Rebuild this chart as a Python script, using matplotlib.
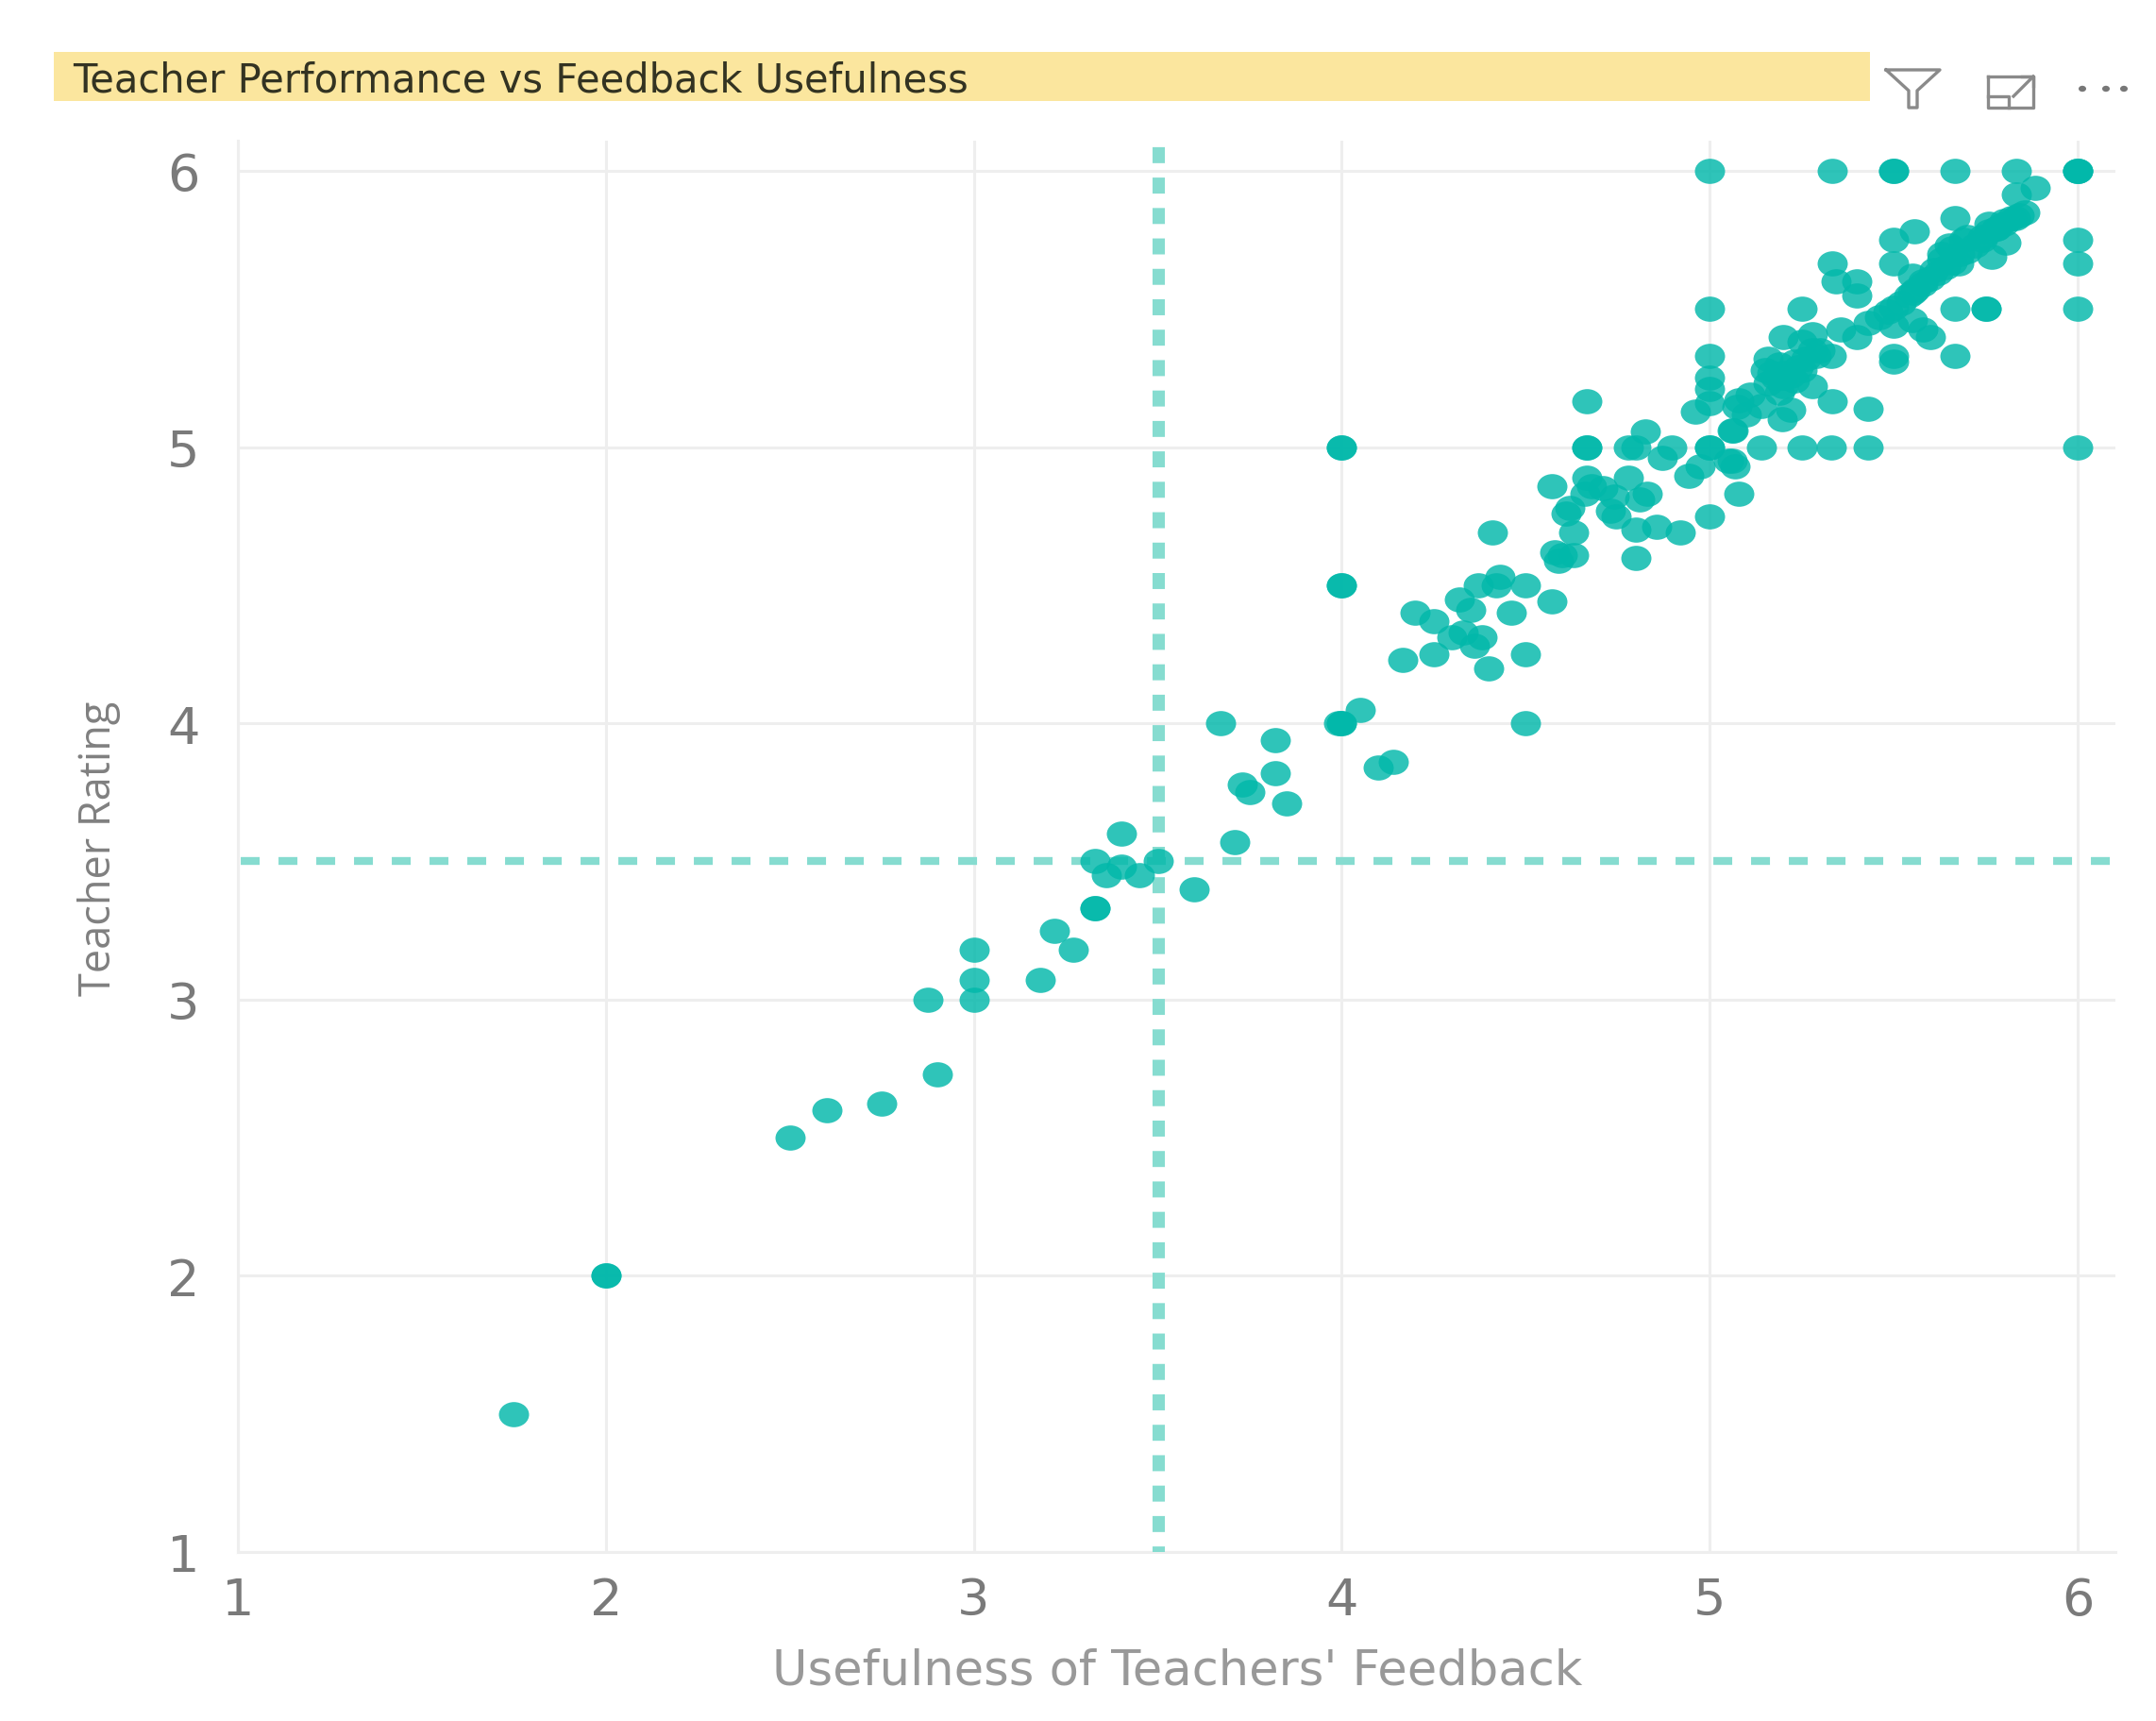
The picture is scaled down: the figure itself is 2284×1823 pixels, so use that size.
import matplotlib
matplotlib.use("Agg")
import matplotlib.pyplot as plt
from matplotlib.path import Path
from matplotlib.lines import Line2D
from matplotlib.patches import Rectangle
from matplotlib.transforms import Affine2D

W, H = 2284, 1824
plt.rcParams['lines.scale_dashes'] = False

title = "Teacher Performance vs Feedback Usefulness"
x_label = "Usefulness of Teachers' Feedback"
y_label = "Teacher Rating"
ticks = [1, 2, 3, 4, 5, 6]
ref_x = 3.5
ref_y = 3.5

low_x = [1.75, 2, 2, 2.5, 2.6, 2.75, 2.875, 2.9, 3, 3, 3, 3.18, 3.22, 3.27, 3.33, 3.33, 3.33, 3.36, 3.4, 3.4, 3.45, 3.5, 3.6,
         3.67, 3.71, 3.73, 3.75, 3.82, 3.82, 3.85, 4, 4, 3.99, 4.05, 4.1, 4.14, 4, 4, 4, 4]
low_y = [1.5, 2, 2, 2.5, 2.6, 2.625, 3, 2.73, 3, 3.07, 3.18, 3.07, 3.25, 3.18, 3.33, 3.33, 3.5, 3.45, 3.6, 3.48, 3.45, 3.5, 3.4,
         4, 3.57, 3.78, 3.75, 3.94, 3.82, 3.71, 4, 4, 4, 4.05, 3.84, 3.86, 4.5, 4.5, 5, 5]

mid_x = [4.165, 4.2, 4.25, 4.25, 4.32, 4.35, 4.3, 4.33, 4.36, 4.38, 4.4, 4.37, 4.43, 4.42, 4.41, 4.46, 4.5, 4.5, 4.5, 4.57,
         4.57, 4.58, 4.59, 4.63, 4.60, 4.63, 4.62, 4.61, 4.66, 4.68, 4.71, 4.74, 4.73, 4.745, 4.666, 4.78, 4.83, 4.81,
         4.8, 4.8, 4.856, 4.92, 4.666, 4.666, 4.78, 4.80, 4.825, 4.897, 4.87]
mid_y = [4.23, 4.4, 4.37, 4.25, 4.45, 4.41, 4.31, 4.33, 4.28, 4.31, 4.2, 4.5, 4.53, 4.5, 4.69, 4.4, 4.5, 4.25, 4.0, 4.44,
         4.86, 4.62, 4.59, 4.61, 4.61, 4.69, 4.78, 4.76, 4.83, 4.86, 4.85, 4.82, 4.77, 4.75, 4.89, 4.89, 4.83, 4.81,
         4.70, 4.6, 4.71, 4.69, 5, 5, 5, 5, 5.057, 5, 4.96]

high_x = [5, 5, 4.975, 4.944, 5.06, 5.07, 5.14, 5.25, 5.33, 5.43, 5.08, 5, 5.064, 5.05, 5, 5, 5, 5, 4.96, 4.667, 5, 5.25,
          5.158, 5.15, 5.19, 5.23, 5.25, 5.2, 5.23, 5.158, 5.28, 5.19, 5.333, 5.43, 5.11, 5.08, 5.075, 5.1, 5.14, 5.196, 5.22, 5.06,
          5.28, 5.2, 5.25, 5.33, 5.29, 5.357, 5.40, 5.43, 5.46, 5.5, 5.55, 5.58, 5.6, 5.667, 5.5, 5.5,
          5.485, 5.5, 5.55, 5.58, 5.61, 5.63, 5.65, 5.677, 5.69, 5.76, 5.767, 5.805, 5.74, 5.78, 5.8,
          5.667, 5.75, 5.75, 5.667, 5.555, 5.5, 5.5, 5.333, 5.344, 5.40, 5.40, 5.55, 5.857, 5.83, 5.885, 5.834,
          5, 5.333, 5.5, 5.5, 5.667, 5.833, 6, 6, 6, 6, 6, 6, 6]
high_y = [5, 5, 4.93, 4.897, 4.95, 4.93, 5, 5, 5, 5, 4.83, 4.75, 5.06, 4.95, 5.5, 5.33, 5.25, 5.21, 5.13, 5.165, 5.16, 5.5,
          5.32, 5.28, 5.30, 5.31, 5.28, 5.25, 5.24, 5.23, 5.22, 5.197, 5.165, 5.14, 5.19, 5.17, 5.146, 5.118, 5.15, 5.1, 5.134, 5.06,
          5.41, 5.4, 5.38, 5.33, 5.33, 5.425, 5.40, 5.45, 5.47, 5.44, 5.46, 5.425, 5.4, 5.33, 5.33, 5.31,
          5.49, 5.505, 5.56, 5.6, 5.64, 5.70, 5.73, 5.665, 5.75, 5.81, 5.69, 5.74, 5.76, 5.79, 5.82,
          5.5, 5.5, 5.5, 5.83, 5.78, 5.75, 5.665, 5.665, 5.6, 5.6, 5.55, 5.62, 5.85, 5.83, 5.94, 5.915,
          6, 6, 6, 6, 6, 6, 6, 6, 5.75, 5.665, 5.5, 5, 6]

ridge_x = [5.52, 5.54, 5.56, 5.58, 5.6, 5.62, 5.64, 5.66, 5.68, 5.7, 5.72, 5.74, 5.76, 5.78, 5.8, 5.82, 5.84,
           5.18, 5.2, 5.22, 5.2, 5.17, 5.24, 5.26, 5.28, 5.3, 5.63, 5.66, 5.7]
ridge_y = [5.52, 5.55, 5.57, 5.59, 5.61, 5.63, 5.65, 5.67, 5.7, 5.71, 5.73, 5.75, 5.78, 5.79, 5.81, 5.83, 5.84,
           5.25, 5.27, 5.26, 5.22, 5.27, 5.29, 5.32, 5.35, 5.35, 5.68, 5.72, 5.76]

usefulness = low_x + mid_x + high_x + ridge_x
rating = low_y + mid_y + high_y + ridge_y

def fx(px):
    return px / W

def fy(py):
    return 1 - py / H

fig = plt.figure(figsize=(W / 100, H / 100), dpi=100, facecolor='white')
ax = fig.add_axes([fx(252), fy(1645), (2241 - 252) / W, (1645 - 150) / H])
ax.set_xlim(1, 1 + (2241 - 252) / 389.8)
ax.set_ylim(1, 1 + (1645 - 150) / 292.6)
ax.set_xticks(ticks)
ax.set_yticks(ticks)
ax.grid(True, color='#eeeeee', lw=2.2)
ax.set_axisbelow(True)
for s in ax.spines.values():
    s.set_visible(False)
ax.plot([1, 1], [1, ax.get_ylim()[1]], color='#eeeeee', lw=2.2, zorder=0.5, clip_on=False)
ax.plot([1, ax.get_xlim()[1]], [1, 1], color='#eeeeee', lw=2.2, zorder=0.5, clip_on=False)
ax.tick_params(length=0, labelsize=39, labelcolor='#7a7a7a', pad=0)
ax.tick_params(axis='x', pad=18)
ax.tick_params(axis='y', pad=29)

ax.axvline(ref_x, color='#86dcd0', lw=9.4, linestyle=(7.6, (12.2, 11.0)), dash_capstyle='butt', zorder=1.5)
ax.axhline(ref_y, color='#86dcd0', lw=6, linestyle=(26.6, (14.4, 14.4)), dash_capstyle='butt', zorder=1.5)

ellipse = Path.unit_circle().transformed(Affine2D().scale(1.2, 1))
ax.scatter(usefulness, rating, s=530, marker=ellipse, color='#01B8AA', alpha=0.82, linewidths=0, zorder=3, clip_on=False)

ax.set_xlabel(x_label, fontsize=36.8, color='#999999', family='DejaVu Sans')
ax.xaxis.set_label_coords((1247 - 252) / (2241 - 252), (1645 - 1771) / (1645 - 150))
ax.xaxis.label.set_verticalalignment('center')
ax.set_ylabel(y_label, fontsize=32.5, color='#808080', family='Open Sans')
ax.yaxis.set_label_coords((105 - 252) / (2241 - 252), (1645 - 899) / (1645 - 150))
ax.yaxis.label.set_verticalalignment('center')

fig.add_artist(Rectangle((fx(57), fy(108)), (1981 - 57) / W, (108 - 56) / H, transform=fig.transFigure, color='#fbe69e', lw=0))
fig.text(fx(77), fy(85), title, fontsize=30, color='#333322', family='DejaVu Sans', va='center', ha='left')

def icon(xs, ys, lw=2.4):
    fig.add_artist(Line2D([fx(v) for v in xs], [fy(v) for v in ys], transform=fig.transFigure, color='#8a8a8a', lw=lw))

icon([1998, 2055, 2031, 2031, 2022, 2022, 1998], [75, 75, 97, 115, 115, 97, 75])
icon([2106, 2154, 2154, 2106, 2106], [82, 82, 115, 115, 82])
icon([2106, 2128, 2128], [103, 103, 115])
icon([2133, 2154], [103, 82])
icon([2142, 2154, 2154], [82, 82, 92])
for px in [2206, 2231, 2250]:
    fig.add_artist(plt.Circle((fx(px), fy(95)), 4 / W, transform=fig.transFigure, color='#777777', lw=0))

fig.savefig('out.png', dpi=100)
